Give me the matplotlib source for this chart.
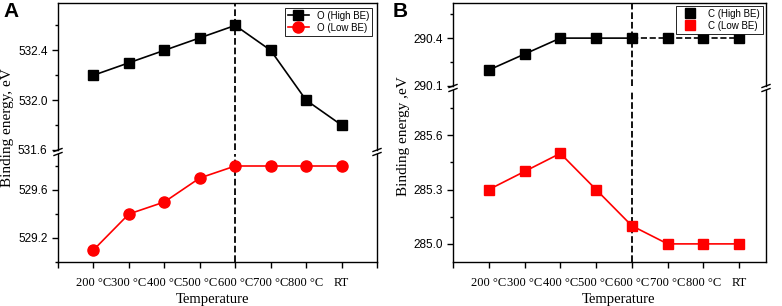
import numpy as np
import matplotlib.pyplot as plt

temps = ['200 °C', '300 °C', '400 °C', '500 °C', '600 °C', '700 °C', '800 °C', 'RT']
o_high = [532.2, 532.3, 532.4, 532.5, 532.6, 532.4, 532.0, 531.8]
o_low = [529.1, 529.4, 529.5, 529.7, 529.8, 529.8, 529.8, 529.8]
c_high = [290.2, 290.3, 290.4, 290.4, 290.4, 290.4, 290.4, 290.4]
c_low = [285.3, 285.4, 285.5, 285.3, 285.1, 285.0, 285.0, 285.0]

serif = 'Liberation Serif'
sans = 'Liberation Sans'
plt.rcParams['font.family'] = sans

W, H = 782, 306
fig = plt.figure(figsize=(W / 100, H / 100), dpi=100)


def box(l, r, t, b):
    return [l / W, 1 - b / H, (r - l) / W, (b - t) / H]


def broken(l, r, top, brk, bottom, gap=4):
    ax_t = fig.add_axes(box(l, r, top, brk - gap / 2))
    ax_b = fig.add_axes(box(l, r, brk + gap / 2, bottom))
    ax_t.spines['bottom'].set_visible(False)
    ax_b.spines['top'].set_visible(False)
    ax_t.tick_params(axis='x', which='both', bottom=False, labelbottom=False)
    for ax in (ax_t, ax_b):
        for s in ax.spines.values():
            s.set_linewidth(1.0)
        ax.tick_params(axis='y', which='both', direction='out', labelsize=8.5, width=1.0)
        ax.tick_params(axis='y', which='major', length=4)
        ax.tick_params(axis='y', which='minor', length=2.5)
    # "//" break marks on both side spines
    for xs in (l, r):
        for yc in (brk - gap / 2, brk + gap / 2):
            fig.add_artist(plt.Line2D([(xs - 4) / W, (xs + 4) / W],
                                      [1 - (yc + 1.5) / H, 1 - (yc - 1.5) / H],
                                      color='k', lw=1.0, transform=fig.transFigure))
    return ax_t, ax_b


x = np.arange(len(temps))

# ---- panel A
a_t, a_b = broken(58, 377, 3, 152, 262)
a_t.set_ylim(531.6, 532.78)
a_b.set_ylim(529.0, 529.9)
a_t.set_yticks([531.6, 532.0, 532.4])
a_t.set_yticks([531.8, 532.2, 532.6], minor=True)
a_b.set_yticks([529.2, 529.6])
a_b.set_yticks([529.0, 529.4, 529.8], minor=True)
a_t.plot(x, o_high, color='k', marker='s', ms=7, lw=1.2, label='O (High BE)')
a_b.plot(x, o_low, color='#ff0000', marker='o', ms=8, lw=1.2, label='O (Low BE)')
h1, l1 = a_t.get_legend_handles_labels()
h2, l2 = a_b.get_legend_handles_labels()
a_t.legend(h1 + h2, l1 + l2, loc='upper right', fontsize=7, frameon=True, fancybox=False,
           edgecolor='k', borderpad=0.3, labelspacing=0.2, handlelength=2.2,
           borderaxespad=0.5, framealpha=1).get_frame().set_linewidth(0.6)

# ---- panel B
b_t, b_b = broken(453, 766, 3, 88, 262)
b_t.set_ylim(290.1, 290.62)
b_b.set_ylim(284.9, 285.85)
b_t.set_yticks([290.1, 290.4])
b_t.set_yticks([290.25, 290.55], minor=True)
b_b.set_yticks([285.0, 285.3, 285.6])
b_b.set_yticks([285.15, 285.45, 285.75], minor=True)
b_t.plot(x[:5], c_high[:5], color='k', lw=1.2)
b_t.plot(x[4:], c_high[4:], color='k', lw=1.2, ls='--')
b_t.plot(x, c_high, color='k', marker='s', ms=7, ls='none', label='C (High BE)')
b_b.plot(x, c_low, color='#ff0000', lw=1.2)
b_b.plot(x, c_low, color='#ff0000', marker='s', ms=7, ls='none', label='C (Low BE)')
h1, l1 = b_t.get_legend_handles_labels()
h2, l2 = b_b.get_legend_handles_labels()
b_t.legend(h1 + h2, l1 + l2, loc='upper right', fontsize=7, frameon=True, fancybox=False,
           edgecolor='k', borderpad=0.3, labelspacing=0.2, handlelength=2.2,
           borderaxespad=0.3, framealpha=1).get_frame().set_linewidth(0.6)

panels = ((a_t, a_b, (-1, 8), 'Binding energy, eV', 'A', 3, 58, 212, 128),
          (b_t, b_b, (-1, 7.75), 'Binding energy ,eV', 'B', 393, 453, 619, 136))
for (ax_t, ax_b, xr, ylab, lab, lx, yl, xc, yc) in panels:
    for ax in (ax_t, ax_b):
        ax.set_xlim(*xr)
        ax.axvline(4, color='k', ls='--', lw=1.3, zorder=0)
    ticks = np.arange(xr[0], int(xr[1]) + 1)
    ax_b.set_xticks(ticks)
    ax_b.set_xticklabels(['' if (t < 0 or t > 7) else temps[int(t)] for t in ticks],
                         fontfamily=serif, fontsize=9)
    ax_b.tick_params(axis='x', direction='out', length=4, width=1.0, pad=7)
    fig.text(xc / W, 1 - 299 / H, 'Temperature',
             ha='center', va='center', fontfamily=serif, fontsize=10.5)
    fig.text((yl - 50) / W, 1 - yc / H, ylab, rotation=90, ha='center', va='center',
             fontfamily=serif, fontsize=11)
    fig.text(lx / W, 1 - 2 / H, lab, ha='left', va='top', fontsize=15, fontweight='bold')

fig.savefig('out.png', dpi=100)
